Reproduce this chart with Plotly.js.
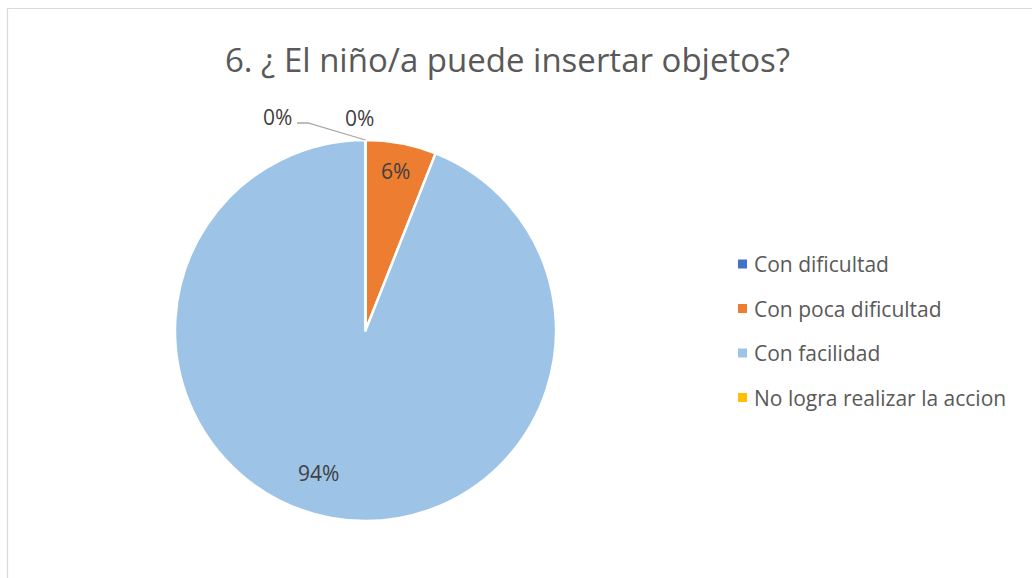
<!DOCTYPE html>
<html>
<head>
<meta charset="utf-8">
<script src="https://cdn.plot.ly/plotly-3.0.1.min.js"></script>
<style>
html,body{margin:0;padding:0;background:#fff;}
#chart{width:1032px;height:578px;}
</style>
</head>
<body>
<div id="chart"></div>
<script>
// ---- data ----
const categories = ["Con dificultad", "Con poca dificultad", "Con facilidad", "No logra realizar la accion"];
const values = [0, 6, 94, 0];
const percentLabels = ["0%", "6%", "94%", "0%"];
const colors = ["#4472C4", "#ED7D31", "#9DC3E6", "#FFC000"];
const chartTitle = "6. ¿ El niño/a puede insertar objetos?";

// ---- layout constants (pixels) ----
const W = 1032, H = 578;
const CX = 365.5, CY = 330.5, R = 190.5;
const FONT = "Open Sans, Noto Sans, sans-serif";
const LABEL_FONT = {family: FONT, size: 21, color: "#404040"};
const px = x => x / W;
const py = y => 1 - y / H;

const trace = {
  type: "pie",
  labels: categories,
  values: values,
  sort: false,
  direction: "clockwise",
  rotation: 0,
  marker: {colors: colors, line: {color: "#ffffff", width: 2.5}},
  textinfo: "none",
  showlegend: false,
  hoverinfo: "label+percent",
  domain: {x: [px(CX - R), px(CX + R)], y: [py(CY + R), py(CY - R)]}
};

const shapes = [
  {type: "rect", xref: "paper", yref: "paper",
   x0: px(7.5), x1: px(W + 20), y0: py(H + 20), y1: py(8.5),
   line: {color: "#d9d9d9", width: 1.2}, fillcolor: "rgba(0,0,0,0)"}
];
const annotations = [];

// custom legend built from the category arrays
const legX = 742.5, legY0 = 264, legStep = 44.5, sq = 9;
categories.forEach((c, i) => {
  const yc = legY0 + i * legStep;
  shapes.push({type: "rect", xref: "paper", yref: "paper",
    x0: px(legX - sq / 2), x1: px(legX + sq / 2), y0: py(yc + sq / 2), y1: py(yc - sq / 2),
    fillcolor: colors[i], line: {width: 0}});
  annotations.push({xref: "paper", yref: "paper", x: px(752), y: py(yc),
    xanchor: "left", yanchor: "middle", showarrow: false, text: c,
    font: {family: FONT, size: 21, color: "#595959"}});
});

// in-slice percentage labels, placed from the cumulative values
const total = values.reduce((a, b) => a + b, 0);
const labelPlacement = {1: {frac: 0.5, r: 0.85}, 2: {frac: 0.5, r: 0.79, shift: 7.5}};
let cum = 0;
values.forEach((v, i) => {
  const start = cum / total * 360;
  cum += v;
  const end = cum / total * 360;
  const p = labelPlacement[i];
  if (!p) return;
  const ang = (start + (end - start) * p.frac + (p.shift || 0)) * Math.PI / 180;
  const x = CX + Math.sin(ang) * R * p.r;
  const y = CY - Math.cos(ang) * R * p.r;
  annotations.push({xref: "paper", yref: "paper", x: px(x), y: py(y),
    xanchor: "center", yanchor: "middle", showarrow: false, text: percentLabels[i],
    font: LABEL_FONT});
});

// zero-percent labels at the top of the pie
annotations.push({xref: "paper", yref: "paper", x: px(277), y: py(117),
  xanchor: "center", yanchor: "middle", showarrow: false, text: percentLabels[0],
  font: LABEL_FONT});
annotations.push({xref: "paper", yref: "paper", x: px(359), y: py(118),
  xanchor: "center", yanchor: "middle", showarrow: false, text: percentLabels[3],
  font: LABEL_FONT});
shapes.push({type: "path", xref: "paper", yref: "paper",
  path: `M ${px(297)} ${py(123)} L ${px(308)} ${py(123)} L ${px(CX)} ${py(CY - R)}`,
  line: {color: "#a6a6a6", width: 1.3}});

const layout = {
  width: W, height: H,
  margin: {l: 0, r: 0, t: 0, b: 0},
  paper_bgcolor: "#ffffff",
  title: {text: chartTitle, x: px(507.5), xanchor: "center", y: py(60), yanchor: "middle",
    xref: "paper", yref: "paper",
    font: {family: FONT, size: 33, color: "#595959"}},
  shapes: shapes,
  annotations: annotations,
  showlegend: false
};

Plotly.newPlot("chart", [trace], layout, {displayModeBar: false, staticPlot: true});
</script>
</body>
</html>
